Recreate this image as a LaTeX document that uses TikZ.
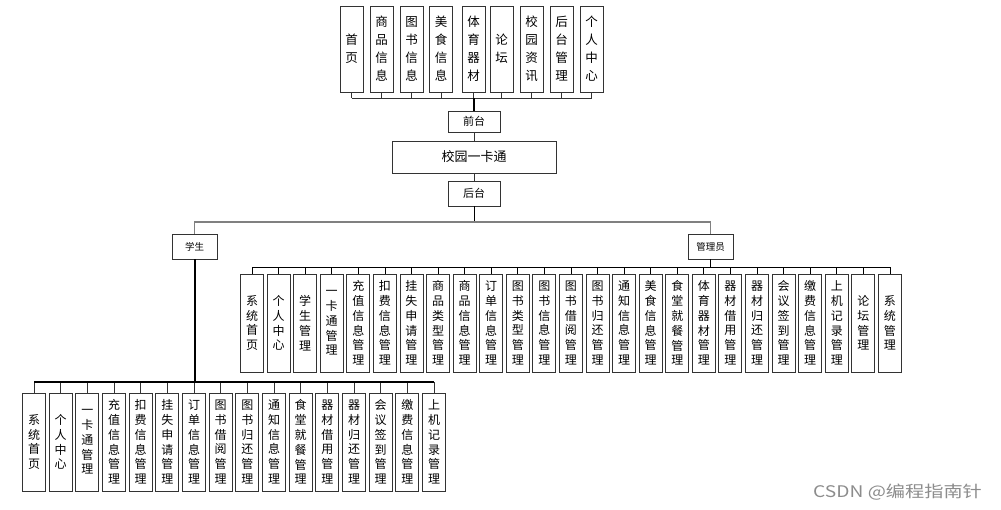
\documentclass[tikz,border=0pt]{standalone}
\usepackage{fontspec}
\setmainfont{Noto Sans CJK SC}
\begin{document}
\begin{tikzpicture}[x=1pt,y=-1pt,
  box/.style={draw=black!80,line width=0.9pt,inner sep=0pt,align=center,fill=white},
  topbox/.style={box,minimum width=23pt,minimum height=86pt,font=\fontsize{12.5}{18}\selectfont},
  leaf/.style={box,minimum width=23pt,minimum height=98pt,font=\fontsize{12}{14.8}\selectfont},
  midbox/.style={box,minimum width=52pt,minimum height=21pt,font=\fontsize{11}{13}\selectfont},
  rolebox/.style={box,minimum width=45pt,minimum height=25pt,font=\fontsize{9.5}{11}\selectfont},
  link/.style={draw=black!80,line width=0.8pt},
  greylink/.style={draw=black!50,line width=1.3pt},
  thicklink/.style={draw=black,line width=2pt},
  wmark/.style={text=black!45,font=\fontsize{16}{18}\selectfont,inner sep=0pt}
]
\useasboundingbox (0,0) rectangle (1001,509);

% top row
\node[topbox] (t1) at (351.5,49) {首\\页};
\node[topbox] (t2) at (381.5,49) {商\\品\\信\\息};
\node[topbox] (t3) at (411.5,49) {图\\书\\信\\息};
\node[topbox] (t4) at (441,49) {美\\食\\信\\息};
\node[topbox] (t5) at (473.5,49) {体\\育\\器\\材};
\node[topbox] (t6) at (501.5,49) {论\\坛};
\node[topbox] (t7) at (531.5,49) {校\\园\\资\\讯};
\node[topbox] (t8) at (561.5,49) {后\\台\\管\\理};
\node[topbox] (t9) at (591.5,49) {个\\人\\中\\心};

\node[midbox] (qt) at (474,121.5) {前台};
\node[box,minimum width=164pt,minimum height=32pt,font=\fontsize{13}{15}\selectfont] (xy) at (474,157) {校园一卡通};
\node[midbox,minimum height=25pt] (ht) at (474,193.5) {后台};

\coordinate (tb) at (474,98);
\foreach \i in {1,...,9} \draw[link] (t\i.south) -- (t\i.south |- tb);
\draw[link] (t1.south |- tb) -- (t9.south |- tb);
\draw[thicklink,line width=1.2pt] (tb) -- (qt.north);
\draw[link] (qt.south) -- (xy.north);
\draw[link] (xy.south) -- (ht.north);

% roles
\node[rolebox] (xs) at (194.5,246.5) {学生};
\node[rolebox] (gl) at (710.5,246.5) {管理员};
\coordinate (hb) at (474,222);
\draw[link,draw=black] (ht.south) -- (hb);
\draw[greylink] (xs.north) |- (hb) -| (gl.north);

% admin leaves
\coordinate (ab) at (710.5,267);
\foreach \t [count=\i from 0] in {
 {系\\统\\首\\页},{个\\人\\中\\心},{学\\生\\管\\理},{一\\卡\\通\\管\\理},
 {充\\值\\信\\息\\管\\理},{扣\\费\\信\\息\\管\\理},{挂\\失\\申\\请\\管\\理},
 {商\\品\\类\\型\\管\\理},{商\\品\\信\\息\\管\\理},{订\\单\\信\\息\\管\\理},
 {图\\书\\类\\型\\管\\理},{图\\书\\信\\息\\管\\理},{图\\书\\借\\阅\\管\\理},
 {图\\书\\归\\还\\管\\理},{通\\知\\信\\息\\管\\理},{美\\食\\信\\息\\管\\理},
 {食\\堂\\就\\餐\\管\\理},{体\\育\\器\\材\\管\\理},{器\\材\\借\\用\\管\\理},
 {器\\材\\归\\还\\管\\理},{会\\议\\签\\到\\管\\理},{缴\\费\\信\\息\\管\\理},
 {上\\机\\记\\录\\管\\理},{论\\坛\\管\\理},{系\\统\\管\\理}}
{
  \node[leaf] (a\i) at ({252+26.58*\i},323) {\t};
  \draw[link,draw=black] (a\i.north) -- (a\i.north |- ab);
}
\draw[link,draw=black] (a0.north |- ab) -- (a24.north |- ab);
\draw[link,draw=black] (gl.south) -- (ab);

% student leaves
\coordinate (sb) at (194.5,382);
\foreach \t [count=\i from 0] in {
 {系\\统\\首\\页},{个\\人\\中\\心},{一\\卡\\通\\管\\理},
 {充\\值\\信\\息\\管\\理},{扣\\费\\信\\息\\管\\理},{挂\\失\\申\\请\\管\\理},
 {订\\单\\信\\息\\管\\理},{图\\书\\借\\阅\\管\\理},{图\\书\\归\\还\\管\\理},
 {通\\知\\信\\息\\管\\理},{食\\堂\\就\\餐\\管\\理},{器\\材\\借\\用\\管\\理},
 {器\\材\\归\\还\\管\\理},{会\\议\\签\\到\\管\\理},{缴\\费\\信\\息\\管\\理},
 {上\\机\\记\\录\\管\\理}}
{
  \node[leaf] (s\i) at ({34+26.67*\i},442) {\t};
  \draw[link] (s\i.north) -- (s\i.north |- sb);
}
\draw[link,draw=black,line width=1.1pt] (s0.north |- sb) -- (s15.north |- sb);
\draw[thicklink] (xs.south) -- (sb);

\node[wmark,anchor=west] (wm) at (813,492) {\scalebox{1.2}[1]{CSDN @编程指南针}};
\end{tikzpicture}
\end{document}
